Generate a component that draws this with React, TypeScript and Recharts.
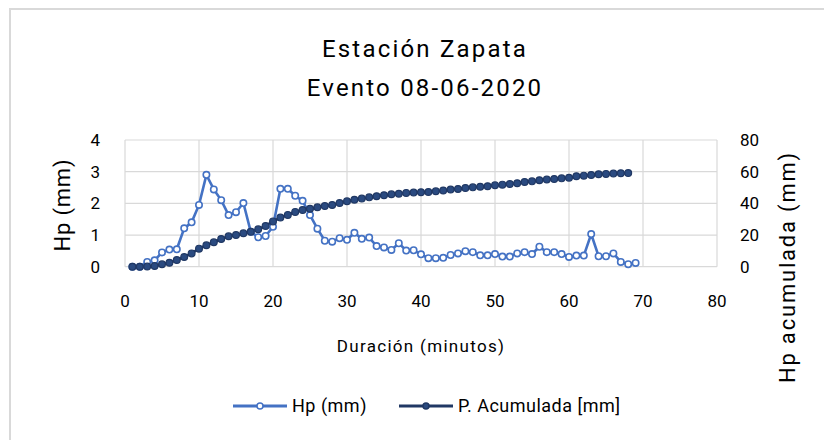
import React from 'react';
import { ComposedChart, Line, XAxis, YAxis, CartesianGrid, Legend } from 'recharts';

const minutes = [
  1, 2, 3, 4, 5, 6, 7, 8, 9, 10, 11, 12, 13, 14, 15, 16, 17, 18, 19, 20,
  21, 22, 23, 24, 25, 26, 27, 28, 29, 30, 31, 32, 33, 34, 35, 36, 37, 38, 39, 40,
  41, 42, 43, 44, 45, 46, 47, 48, 49, 50, 51, 52, 53, 54, 55, 56, 57, 58, 59, 60,
  61, 62, 63, 64, 65, 66, 67, 68, 69,
];

const hpValues = [
  0, 0, 0.15, 0.2, 0.45, 0.54, 0.55, 1.21, 1.4, 1.95,
  2.9, 2.44, 2.1, 1.63, 1.72, 2.01, 1.1, 0.93, 0.97, 1.26,
  2.46, 2.46, 2.24, 2.08, 1.63, 1.2, 0.82, 0.79, 0.9, 0.85,
  1.07, 0.88, 0.92, 0.65, 0.61, 0.53, 0.74, 0.51, 0.52, 0.39,
  0.27, 0.27, 0.28, 0.37, 0.42, 0.49, 0.46, 0.36, 0.36, 0.4,
  0.32, 0.32, 0.42, 0.46, 0.4, 0.63, 0.46, 0.46, 0.4, 0.31,
  0.35, 0.35, 1.03, 0.33, 0.33, 0.42, 0.15, 0.08, 0.12,
];

const acumValues = [
  0, 0, 0.1, 0.4, 1.5, 2.5, 4.2, 6.1, 8.4, 11.4,
  13.5, 15.4, 17.5, 19.2, 20, 21.1, 22.1, 23.6, 25.7, 28.6,
  31, 32.7, 34.6, 35.8, 36.6, 37.5, 38.3, 39, 40.2, 41.3,
  42.3, 43, 43.8, 44.5, 45.1, 45.7, 46.1, 46.6, 46.8, 47,
  47.2, 47.6, 48.1, 48.7, 49.1, 49.7, 50.1, 50.5, 50.8, 51.4,
  51.8, 52.2, 52.7, 53.5, 53.9, 54.6, 55, 55.4, 55.8, 56.2,
  57.1, 57.5, 57.9, 58.4, 58.6, 58.8, 59, 59.1,
];

const xTicks = [0, 10, 20, 30, 40, 50, 60, 70, 80];
const leftTicks = [0, 1, 2, 3, 4];
const rightTicks = [0, 20, 40, 60, 80];

const titleLines = ['Estación Zapata', 'Evento 08-06-2020'];
const hpName = 'Hp (mm)';
const acumName = 'P. Acumulada [mm]';
const xTitle = 'Duración (minutos)';
const leftTitle = 'Hp (mm)';
const rightTitle = 'Hp acumulada (mm)';

const data = minutes.map((m, i) => ({
  minuto: m,
  hp: hpValues[i],
  acum: i < acumValues.length ? acumValues[i] : undefined,
}));

const FONT = 'Roboto, "Noto Sans", sans-serif';
const HP_COLOR = '#4472C4';
const ACUM_COLOR = '#203864';
const ACUM_FILL = '#2A4A80';

const W = 824;
const H = 432;

const renderLegend = (props: any) => {
  const payload = props.payload || [];
  return (
    <div style={{ display: 'flex', alignItems: 'center', fontFamily: FONT, fontSize: 18, color: '#000' }}>
      {payload.map((e: any, i: number) => {
        const isHp = e.dataKey === 'hp';
        const col = isHp ? HP_COLOR : ACUM_COLOR;
        return (
          <div key={i} style={{ display: 'flex', alignItems: 'center', marginRight: i === 0 ? 32 : 0 }}>
            <svg width={54} height={12} style={{ display: 'block' }}>
              <line x1={0} y1={6} x2={54} y2={6} stroke={col} strokeWidth={3} />
              <circle cx={27} cy={6} r={3} fill={isHp ? '#fff' : ACUM_FILL} stroke={col} strokeWidth={1.5} />
            </svg>
            <span style={{ marginLeft: 5, letterSpacing: 0.5, lineHeight: '22px' }}>{e.value}</span>
          </div>
        );
      })}
    </div>
  );
};

export default function App() {
  const tickStyle = { fontFamily: FONT, fontSize: 17, fill: '#000' };
  return (
    <div style={{ position: 'relative', width: W, height: H, background: '#fff' }}>
      <div style={{ position: 'absolute', left: 1, top: 0, width: W - 1, height: 2, background: '#d9d9d9' }} />
      <div style={{ position: 'absolute', left: 1, top: 0, width: 2, height: H, background: '#d9d9d9' }} />
      <ComposedChart
        width={W}
        height={H}
        data={data}
        margin={{ top: 132, right: 55, bottom: 143.3, left: 57 }}
        style={{ position: 'absolute', left: 0, top: 0 }}
      >
        <CartesianGrid yAxisId="left" stroke="#d9d9d9" strokeWidth={1.2} />
        <XAxis
          type="number"
          dataKey="minuto"
          domain={[0, 80]}
          ticks={xTicks}
          axisLine={false}
          tickLine={false}
          tickSize={0}
          tickMargin={28}
          height={30}
          tick={tickStyle}
          interval={0}
        />
        <YAxis
          yAxisId="left"
          domain={[0, 4]}
          ticks={leftTicks}
          axisLine={false}
          tickLine={false}
          tickSize={0}
          tickMargin={25}
          width={60}
          tick={tickStyle}
          interval={0}
        />
        <YAxis
          yAxisId="right"
          orientation="right"
          domain={[0, 80]}
          ticks={rightTicks}
          axisLine={false}
          tickLine={false}
          tickSize={0}
          tickMargin={23}
          width={60}
          tick={tickStyle}
          interval={0}
        />
        <Line
          yAxisId="left"
          type="linear"
          dataKey="hp"
          name={hpName}
          stroke={HP_COLOR}
          strokeWidth={2.6}
          dot={{ r: 3.2, fill: '#fff', stroke: HP_COLOR, strokeWidth: 1.6 }}
          activeDot={false}
          isAnimationActive={false}
        />
        <Line
          yAxisId="right"
          type="linear"
          dataKey="acum"
          name={acumName}
          stroke={ACUM_COLOR}
          strokeWidth={2.8}
          dot={{ r: 3.4, fill: ACUM_FILL, stroke: ACUM_COLOR, strokeWidth: 1.2 }}
          activeDot={false}
          isAnimationActive={false}
        />
        <Legend
          layout="horizontal"
          verticalAlign="middle"
          align="center"
          content={renderLegend}
          wrapperStyle={{ left: 225, top: 387, width: 'auto' }}
        />
      </ComposedChart>
      <svg
        width={W}
        height={H}
        style={{ position: 'absolute', left: 0, top: 0, pointerEvents: 'none' }}
        fontFamily={FONT}
      >
        <text x={417} y={49} textAnchor="middle" fontSize={24} letterSpacing={2.2} fill="#000">
          {titleLines[0]}
        </text>
        <text x={417} y={88} textAnchor="middle" fontSize={24} letterSpacing={2.2} fill="#000">
          {titleLines[1]}
        </text>
        <text x={413} y={344} textAnchor="middle" fontSize={17} letterSpacing={1.3} fill="#000">
          {xTitle}
        </text>
        <text
          x={62}
          y={197}
          textAnchor="middle"
          fontSize={22}
          letterSpacing={0.8}
          fill="#000"
          transform="rotate(-90 62 197)"
        >
          {leftTitle}
        </text>
        <text
          x={787}
          y={259}
          textAnchor="middle"
          fontSize={22}
          letterSpacing={1.8}
          fill="#000"
          transform="rotate(-90 787 259)"
        >
          {rightTitle}
        </text>
      </svg>
    </div>
  );
}
